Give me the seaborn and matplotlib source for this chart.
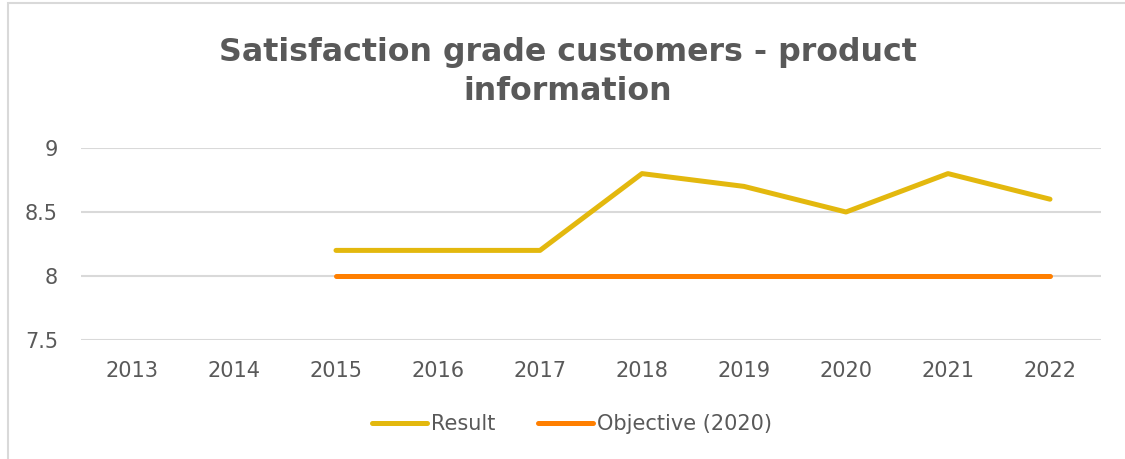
import seaborn as sns
import pandas as pd
import matplotlib.pyplot as plt
from matplotlib.patches import Rectangle

# data
years = [2013, 2014, 2015, 2016, 2017, 2018, 2019, 2020, 2021, 2022]
result_years = [2015, 2016, 2017, 2018, 2019, 2020, 2021, 2022]
result = [8.2, 8.2, 8.2, 8.8, 8.7, 8.5, 8.8, 8.6]
objective = [8.0, 8.0, 8.0, 8.0, 8.0, 8.0, 8.0, 8.0]

df = pd.DataFrame({
    'year': result_years * 2,
    'value': result + objective,
    'serie': ['Result'] * len(result) + ['Objective (2020)'] * len(objective),
})

sns.set_style("white")
plt.rcParams['font.family'] = ['DejaVu Sans']
grey = '#595959'

fig = plt.figure(figsize=(11.25, 4.59), dpi=100)
ax = fig.add_axes([81 / 1125, 1 - 340 / 459, 1020 / 1125, 192 / 459])

sb = sns.lineplot(data=df, x='year', y='value', hue='serie',
                  palette={'Result': '#E3B80E', 'Objective (2020)': '#FF7F00'},
                  linewidth=3.6, solid_capstyle='round', ax=ax, legend=False)

ax.set_xlim(years[0] - 0.5, years[-1] + 0.5)
ax.set_ylim(7.5, 9)
ax.set_xticks(years)
ax.set_xticklabels([str(y) for y in years])
ax.set_yticks([7.5, 8, 8.5, 9])
ax.set_yticklabels(['7.5', '8', '8.5', '9'])
ax.yaxis.grid(True, color='#D9D9D9', linewidth=1.5)
ax.xaxis.grid(False)
for s in ax.spines.values():
    s.set_visible(False)
ax.tick_params(axis='both', length=0, labelsize=15, labelcolor=grey)
ax.tick_params(axis='y', pad=16.5)
ax.tick_params(axis='x', pad=15)
ax.set_xlabel('')
ax.set_ylabel('')

fig.text(568 / 1125, 1 - 72 / 459, 'Satisfaction grade customers - product\ninformation',
         ha='center', va='center', fontsize=22.8, fontweight='bold', color=grey,
         linespacing=1.3)

h1, = ax.plot([], [], color='#E3B80E', linewidth=3.6, solid_capstyle='round')
h2, = ax.plot([], [], color='#FF7F00', linewidth=3.6, solid_capstyle='round')
fig.legend([h1, h2], ['Result', 'Objective (2020)'], loc='center',
           bbox_to_anchor=(572 / 1125, 1 - 424 / 459), ncol=2, frameon=False,
           fontsize=15, labelcolor=grey, handlelength=2.65, handletextpad=0.2,
           columnspacing=2.0)

# chart border (only left and top visible)
fig.patches.append(Rectangle((8 / 1125, -0.1), 1.2, 1 - 3 / 459 + 0.1,
                             transform=fig.transFigure, fill=False,
                             edgecolor='#D9D9D9', linewidth=1.5))

fig.savefig('out.png', dpi=100, facecolor='white')
